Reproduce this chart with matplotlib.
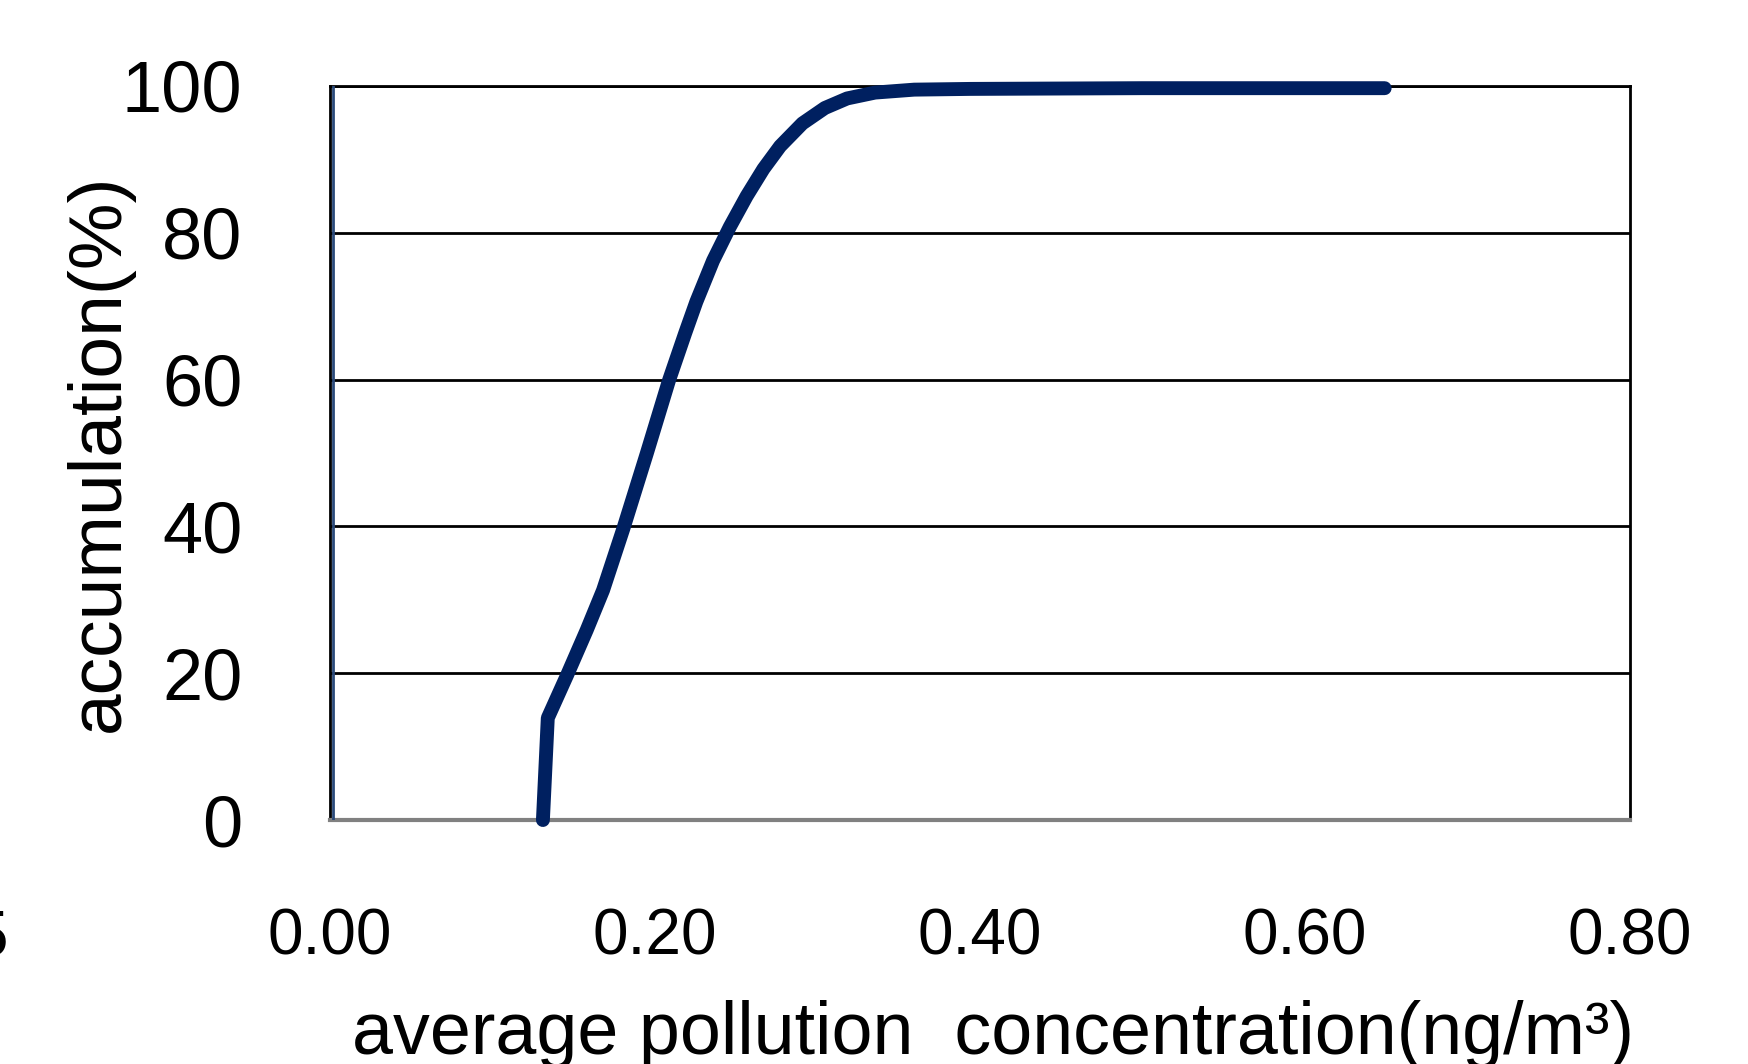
import matplotlib
matplotlib.use("Agg")
import matplotlib.pyplot as plt
from matplotlib import font_manager

# cumulative curve
conc = [0.131, 0.134, 0.146, 0.158, 0.168, 0.1805, 0.195, 0.2086, 0.2185,
        0.2254, 0.2357, 0.246, 0.2564, 0.2667, 0.277, 0.2907, 0.3045,
        0.3182, 0.3354, 0.3595, 0.394, 0.500, 0.649]
accum = [0.0, 13.9, 19.8, 25.9, 31.3, 39.7, 50.0, 59.9, 66.3,
         70.6, 76.2, 80.8, 85.0, 88.7, 91.8, 94.9, 97.0,
         98.3, 99.1, 99.5, 99.6, 99.7, 99.7]

# thin series hugging the y axis
edge_x = [0.002, 0.002]
edge_y = [0, 100]

x_ticks = [0.0, 0.2, 0.4, 0.6, 0.8]
x_ticklabels = ["0.00", "0.20", "0.40", "0.60", "0.80"]
y_ticks = [0, 20, 40, 60, 80, 100]

NAVY = "#002060"

names = {f.name for f in font_manager.fontManager.ttflist}
narrow = "Liberation Sans Narrow" in names
if narrow:
    XFONT = "Liberation Sans Narrow"
    xtick_size, xlab_size = 56, 64
else:
    XFONT = "Liberation Sans"
    xtick_size, xlab_size = 46, 53

plt.rcParams["font.family"] = ["Liberation Sans", "DejaVu Sans"]

fig = plt.figure(figsize=(17.49, 10.64), dpi=100)
ax = fig.add_axes([0.1887, 0.2293, 0.7433, 0.6899])

ax.plot(conc, accum, color=NAVY, lw=10, solid_capstyle="round",
        solid_joinstyle="round", clip_on=False, zorder=4)
ax.plot(edge_x, edge_y, color="#2a4a7a", lw=2, zorder=3)

ax.set_xlim(0, 0.8)
ax.set_ylim(0, 100)
ax.set_xticks(x_ticks)
ax.set_xticklabels(x_ticklabels, fontfamily=XFONT, fontsize=xtick_size)
ax.set_yticks(y_ticks)
ax.tick_params(axis="y", length=0, pad=63, labelsize=52)
ax.tick_params(axis="x", length=0, pad=63)

ax.grid(axis="y", color="black", lw=2)
ax.set_axisbelow(True)

for side in ["top", "right", "left"]:
    ax.spines[side].set_color("black")
    ax.spines[side].set_linewidth(2)
ax.spines["bottom"].set_color("#808080")
ax.spines["bottom"].set_linewidth(3)

ax.set_ylabel("accumulation(%)", fontsize=54)
ax.yaxis.set_label_coords(-0.151, 0.5)
ax.set_xlabel("average pollution  concentration(ng/m³)",
              fontfamily=XFONT, fontsize=xlab_size)
ax.xaxis.set_label_coords(0.51, -0.245)

# stray, half-cut tick label at the very left edge
fig.text(0.0046, 0.1466, "5", ha="right", va="top",
         fontfamily=XFONT, fontsize=xtick_size)

fig.savefig("out.png", dpi=100)
